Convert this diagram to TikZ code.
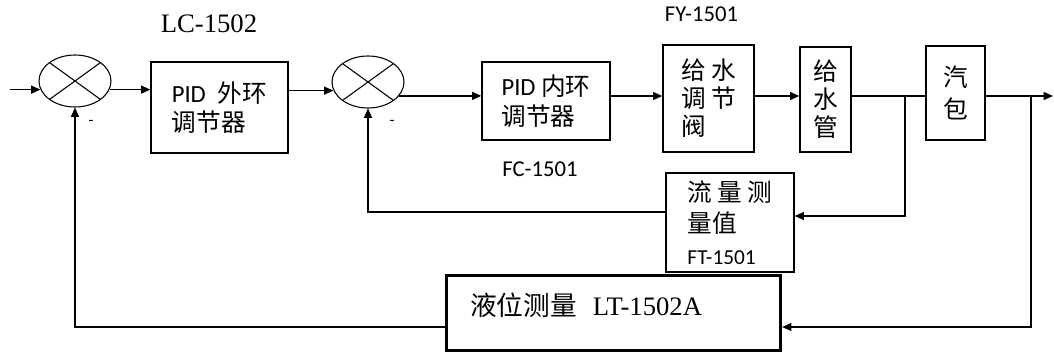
\documentclass[tikz,border=0pt]{standalone}
\usepackage{fontspec}
\usepackage{tikz}
\usetikzlibrary{shapes.geometric,arrows.meta}
\newfontfamily\cjkfont{Noto Sans CJK SC}
\newfontfamily\calfont{Carlito}
\newfontfamily\tmsfont{Liberation Serif}

\begin{document}
\begin{tikzpicture}[x=0.75pt,y=-0.75pt,line width=1pt,
          sumj/.style={ellipse,draw,line width=0.8pt,minimum width=54pt,
                       minimum height=39pt,inner sep=0pt,
                       path picture={\draw[line width=0.8pt]
                         (path picture bounding box.north west) -- (path picture bounding box.south east)
                         (path picture bounding box.south west) -- (path picture bounding box.north east);}},
          blk/.style={draw,inner sep=0pt,align=left,
                      font=\cjkfont\fontsize{18.5}{22}\selectfont},
          tag/.style={font=\calfont\fontsize{17}{20}\selectfont},
          arr/.style={-{Triangle[length=7pt,width=6pt]}}]
        \useasboundingbox (0,0) rectangle (1054,354);
        % summing points
        \node[sumj] (s1) at (75,81) {};
        \node[sumj] (s2) at (368,82) {};
        % blocks
        \node[blk,minimum width=102.75pt,minimum height=68.25pt] (pidout) at (219.5,107.5)
             {{\calfont PID}\hspace{9pt}外环\\调节器};
        \node[blk,minimum width=96pt,minimum height=58.5pt] (pidin) at (546,101)
             {{\calfont PID} 内环\\调节器};
        \node[blk,minimum width=68.25pt,minimum height=80.25pt,
              font=\cjkfont\fontsize{18.5}{21}\selectfont] (valve) at (708.5,98.5)
             {给 水\\调 节\\阀};
        \node[blk,minimum width=38.25pt,minimum height=78.75pt,align=center,
              font=\cjkfont\fontsize{18.5}{21}\selectfont] (pipe) at (825.5,99.5)
             {给\\水\\管};
        \node[blk,minimum width=44.25pt,minimum height=70.5pt,align=center,
              font=\cjkfont\fontsize{18.5}{24}\selectfont] (drum) at (955.5,93)
             {汽\\包};
        \node[blk,minimum width=96pt,minimum height=74.25pt,
              font=\cjkfont\fontsize{18.5}{23.5}\selectfont] (flow) at (730,222.5)
             {流 量 测\\量值\\{\calfont\fontsize{16}{20}\selectfont FT-1501}};
        \node[draw,line width=2.4pt,inner sep=0pt,minimum width=250.5pt,minimum height=56.25pt,
              text width=215pt,align=left,text height=17.6pt,text depth=14pt] (lt) at (613.5,313)
             {\cjkfont\fontsize{20}{24}\selectfont 液位测量\hspace{12pt}{\tmsfont LT-1502A}};
        % tags
        \node[font=\tmsfont\fontsize{20}{24}\selectfont] (lc) at (209,24) {LC-1502};
        \node[tag] (fy) at (701.5,14) {FY-1501};
        \node[tag] (fc) at (540,169) {FC-1501};
        \node[tag,font=\calfont\fontsize{12}{14}\selectfont] (m1) at (91,123) {-};
        \node[tag,font=\calfont\fontsize{12}{14}\selectfont] (m2) at (392,123) {-};
        % line points
        \coordinate (in) at (10,0);
        \coordinate (out) at (1053,96);
        \coordinate (ml) at (0,96);
        \coordinate (b1) at (905,96);
        \coordinate (b2) at (1031,96);
        \coordinate (ft) at (0,216);
        \coordinate (fc) at (0,212);
        \coordinate (lv) at (0,327);
        % forward path
        \draw[arr] (in |- s1.194) -- (s1.194);
        \draw[arr] (s1.-14) -- (s1.-14 -| pidout.west);
        \draw[arr] (pidout.east |- s2.194) -- (s2.194);
        \draw[arr] (s2.-24) -- (s2.-24 -| pidin.west);
        \draw[arr] (pidin.east |- ml) -- (valve.west |- ml);
        \draw[arr] (valve.east |- ml) -- (pipe.west |- ml);
        \draw (pipe.east |- ml) -- (drum.west |- ml);
        \draw[arr] (drum.east |- ml) -- (out);
        % feedback
        \draw[arr] (b1) |- (flow.east |- ft);
        \draw[arr] (flow.west |- fc) -| (s2.south);
        \draw[arr] (b2) |- (lt.east |- lv);
        \draw[arr] (lt.west |- lv) -| (s1.south);
      \end{tikzpicture}
\end{document}
